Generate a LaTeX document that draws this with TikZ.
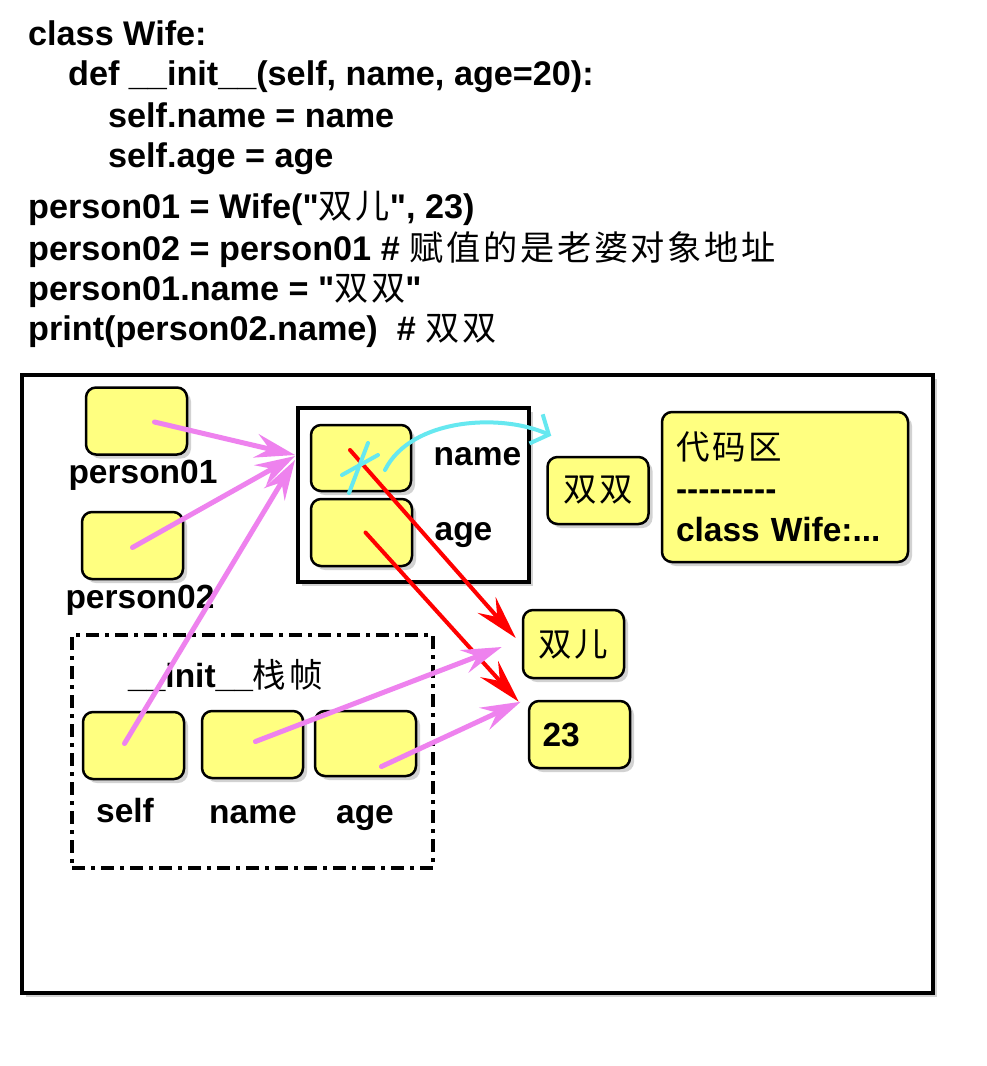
\documentclass[tikz,border=0pt]{standalone}
\usepackage{fontspec}
\setmainfont{Liberation Sans}[Ligatures=TeXOff]
\newfontfamily\cjk{Noto Sans CJK SC}[LetterSpace=8]
\usetikzlibrary{calc,shadows,arrows.meta,positioning}
\definecolor{slotyellow}{RGB}{255,255,128}
\definecolor{ptrviolet}{RGB}{238,130,238}
\definecolor{markcyan}{RGB}{102,232,240}
\newcommand{\zh}[1]{{\cjk\mdseries #1}}
\newcommand{\bigtext}{\bfseries\fontsize{33.5}{41}\selectfont}
\tikzset{
    boxshadow/.style={drop shadow={shadow xshift=4pt, shadow yshift=-4pt, opacity=0.35}},
    slot/.style={draw, line width=2.5pt, fill=slotyellow, rounded corners=10pt,
        minimum width=101pt, minimum height=67pt, inner sep=0pt, boxshadow},
    frame/.style={draw, line width=4.5pt, fill=white, inner sep=0pt, boxshadow},
    stackframe/.style={draw, line width=4pt, inner sep=0pt,
        dash pattern=on 13pt off 6pt on 4pt off 6pt},
    code/.style={anchor=base west, inner sep=0pt},
    codeline/.style={code, font=\bfseries\fontsize{34.2}{41}\selectfont},
    tag/.style={anchor=base, inner sep=0pt},
    pointer/.style={draw=ptrviolet, line width=5pt, line cap=round,
        -{Stealth[length=40pt, width=24pt, inset=14pt]}},
    valref/.style={draw=red, line width=4pt, line cap=round,
        -{Stealth[length=44pt, width=24pt, inset=16pt]}},
    strike/.style={draw=markcyan, line width=4pt, line cap=round}
}

\begin{document}
\begin{tikzpicture}[x=1pt, y=-1pt, every node/.style={font=\bigtext}]
    \useasboundingbox (0,0) rectangle (986,1066);

    % source code
    \node[codeline] (code1) at (28,45) {class Wife:};
    \node[codeline] (code2) at (68,85) {def \_\_init\_\_(self, name, age=20):};
    \node[codeline] (code3) at (108,127) {self.name = name};
    \node[codeline] (code4) at (108,167) {self.age = age};
    \node[codeline] (code5) at (28,218) {person01 = Wife("\zh{双儿}", 23)};
    \node[codeline] (code6) at (28,260) {person02 = person01 \# \zh{赋值的是老婆对象地址}};
    \node[codeline] (code7) at (28,300) {person01.name = "\zh{双双}"};
    \node[codeline] (code8) at (28,340) {print(person02.name)\ \ \# \zh{双双}};

    % memory
    \node[frame, minimum width=911pt, minimum height=618pt] (memory) at (477.5,684) {};

    \node[slot] (p1) at (136.5,421) {};
    \node[tag] (p1tag) at (143,483) {person01};
    \node[slot] (p2) at (132.5,545.5) {};
    \node[tag] (p2tag) at (140,608) {person02};

    \node[frame, line width=4pt, minimum width=231pt, minimum height=174pt] (obj) at (413.5,495) {};
    \node[slot, minimum width=100pt, minimum height=66pt] (objname) at (361,458) {};
    \node[slot] (objage) at (361.5,532.5) {};
    \node[tag] (objnametag) at (477.5,465) {name};
    \node[tag] (objagetag) at (463.5,540) {age};

    \node[slot] (ss) at (598,490.5) {\zh{双双}};
    \node[slot, minimum width=246pt, minimum height=150pt, text width=218pt, align=left]
        (codearea) at (785,487) {\zh{代码区}\\---------\\class Wife:...};
    \node[slot, minimum height=68pt] (se) at (573.5,644) {\zh{双儿}};
    \node[slot, text width=74pt, align=left] (n23) at (579.5,734.5) {23};

    % __init__ stack frame
    \node[stackframe, minimum width=361pt, minimum height=233pt] (init) at (252.5,751.5) {};
    \node[code] (inittitle) at (128,687) {\_\_init\_\_\zh{栈帧}};
    \node[slot] (iself) at (133.5,745.5) {};
    \node[slot] (iname) at (252.5,744.5) {};
    \node[slot, minimum height=65pt] (iage) at (365.5,743.5) {};
    \node[tag] (iselftag) at (125,822) {self};
    \node[tag] (inametag) at (253,823) {name};
    \node[tag] (iagetag) at (365,823) {age};

    % references
    \draw[valref] ($(objname.center)+(-11,-8)$) -- ($(se.west)+(-6,-6)$);
    \draw[valref] ($(objage.center)+(4,0)$) -- ($(n23.north west)+(-9,2)$);
    \draw[pointer] ($(p1.center)+(18,1)$) -- ($(obj.west)+(-1,-40)$);
    \draw[pointer] ($(p2.center)+(0,2)$) -- ($(obj.west)+(-1,-39)$);
    \draw[pointer] ($(iself.center)+(-9,-2)$) -- ($(obj.west)+(-1,-35)$);
    \draw[pointer] ($(iname.center)+(3,-3)$) -- ($(se.west)+(-20,3)$);
    \draw[pointer] ($(iage.center)+(16,23)$) -- ($(n23.north west)+(-7,2)$);

    % reassignment of name
    \draw[strike] ($(objname.center)+(-19,17)$) -- ($(objname.center)+(17,-3)$);
    \draw[strike] ($(objname.center)+(-12,35)$) -- ($(objname.center)+(7,-15)$);
    \draw[strike, -{Straight Barb[length=14pt, width=32pt]}]
        ($(objname.center)+(24,12)$) .. controls ($(objname.center)+(50,-40)$)
        and ($(objname.center)+(140,-45)$) .. ($(ss.north west)+(5,-20)$);
\end{tikzpicture}
\end{document}
